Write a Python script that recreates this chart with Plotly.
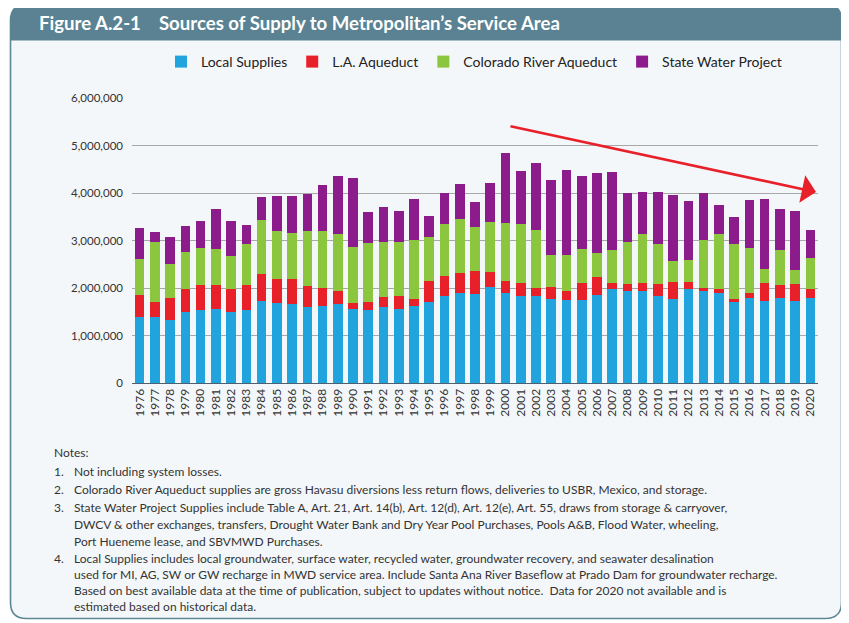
import plotly.graph_objects as go

# ---------------- data (thousand acre-feet) ----------------
years = [str(y) for y in range(1976, 2021)]

local_supplies = [1400, 1400, 1330, 1500, 1540, 1560, 1500, 1540, 1730, 1680, 1660, 1590, 1630, 1660, 1560,
                  1540, 1610, 1550, 1630, 1700, 1830, 1890, 1870, 2030, 1890, 1830, 1830, 1770, 1750, 1750, 1850,
                  1970, 1940, 1940, 1830, 1760, 1970, 1940, 1890, 1710, 1780, 1730, 1800, 1720, 1780]
la_aqueduct = [450, 300, 470, 480, 520, 500, 470, 520, 560, 500, 520, 460, 380, 280, 120,
               170, 200, 280, 140, 450, 430, 420, 490, 300, 260, 270, 160, 260, 190, 350, 390,
               130, 140, 160, 250, 370, 160, 70, 80, 50, 110, 380, 260, 360, 190]
colorado_river = [770, 1270, 700, 770, 790, 770, 700, 860, 1140, 1020, 980, 1150, 1190, 1190, 1190,
                  1240, 1150, 1130, 1250, 930, 1080, 1140, 930, 1060, 1220, 1240, 1240, 660, 750, 730, 500,
                  700, 890, 1030, 840, 440, 460, 1000, 1160, 1160, 960, 300, 750, 300, 670]
state_water = [650, 210, 580, 550, 560, 840, 740, 400, 490, 740, 780, 770, 960, 1220, 1450,
               640, 740, 660, 850, 440, 670, 730, 520, 820, 1470, 1120, 1410, 1580, 1800, 1520, 1690,
               1650, 1040, 900, 1110, 1380, 1240, 980, 610, 580, 1010, 1470, 850, 1240, 590]

series_names = ["Local Supplies", "L.A. Aqueduct", "Colorado River Aqueduct", "State Water Project"]
series_values = [local_supplies, la_aqueduct, colorado_river, state_water]
series_colors = ["#21a4dd", "#e8202a", "#8cc63f", "#8c1b8c"]

y_ticks = [0, 1000000, 2000000, 3000000, 4000000, 5000000, 6000000]

title_text = "Figure A.2-1 &nbsp; &nbsp;Sources of Supply to Metropolitan\u2019s Service Area"
notes_lines = [
    ("", "Notes:"),
    ("1.", "Not including system losses."),
    ("2.", "Colorado River Aqueduct supplies are gross Havasu diversions less return flows, deliveries to USBR, Mexico, and storage."),
    ("3.", "State Water Project Supplies include Table A, Art. 21, Art. 14(b), Art. 12(d), Art. 12(e), Art. 55, draws from storage & carryover,"),
    ("", "DWCV & other exchanges, transfers, Drought Water Bank and Dry Year Pool Purchases, Pools A&B, Flood Water, wheeling,"),
    ("", "Port Hueneme lease, and SBVMWD Purchases."),
    ("4.", "Local Supplies includes local groundwater, surface water, recycled water, groundwater recovery, and seawater desalination"),
    ("", "used for MI, AG, SW or GW recharge in MWD service area. Include Santa Ana River Baseflow at Prado Dam for groundwater recharge."),
    ("", "Based on best available data at the time of publication, subject to updates without notice.  Data for 2020 not available and is"),
    ("", "estimated based on historical data."),
]

# ---------------- layout geometry ----------------
# the page body adds an 8 px margin, so the figure is shrunk by that amount
OFF = 8
WIN_W, WIN_H = 849, 623
FIG_W, FIG_H = WIN_W - OFF, WIN_H - OFF
PL, PR, PT, PB = 132, 818, 98, 383          # plot box in window pixels
L, T = PL - OFF, PT - OFF
R = FIG_W - (PR - OFF)
B = FIG_H - (PB - OFF)
PW, PH = PR - PL, PB - PT
FONT = "Lato"


def px(x):
    return (x - PL) / PW


def py(y):
    return (PB - y) / PH


fig = go.Figure()
for name, vals, col in zip(series_names, series_values, series_colors):
    fig.add_trace(go.Bar(x=years, y=[v * 1000 for v in vals], name=name,
                         marker=dict(color=col, line=dict(width=0))))

# card background with rounded corners (window pixels)
x0, x1, y0, y1, r = 10.5, 841.5, 4.5, 618.5, 16


def P(x, y):
    return f"{px(x):.5f},{py(y):.5f}"


card_path = (f"M{P(x0, y0 + r)} Q{P(x0, y0)} {P(x0 + r, y0)} L{P(x1 - r, y0)} Q{P(x1, y0)} {P(x1, y0 + r)} "
             f"L{P(x1, y1 - r)} Q{P(x1, y1)} {P(x1 - r, y1)} L{P(x0 + r, y1)} Q{P(x0, y1)} {P(x0, y1 - r)} Z")
hy = 40.5
header_path = (f"M{P(x0, hy)} L{P(x0, y0 + r)} Q{P(x0, y0)} {P(x0 + r, y0)} L{P(x1 - r, y0)} "
               f"Q{P(x1, y0)} {P(x1, y0 + r)} L{P(x1, hy)} Z")
shapes = [
    dict(type="path", path=card_path, xref="paper", yref="paper", fillcolor="#f4f7f9",
         line=dict(color="#5d8795", width=1.6), layer="below"),
    dict(type="path", path=header_path, xref="paper", yref="paper", fillcolor="#5a8292",
         line=dict(width=0), layer="below"),
]

annotations = [
    dict(text=f"<b>{title_text}</b>", x=px(37), y=py(22.5), xref="paper", yref="paper",
         xanchor="left", yanchor="middle", showarrow=False,
         font=dict(family=FONT, size=18.6, color="white")),
    dict(text="", x=px(816), y=py(192), xref="paper", yref="paper", showarrow=True,
         ax=-307, ay=-66, arrowhead=1, arrowsize=1.8, arrowwidth=2.6, arrowcolor="#e8202a",
         standoff=0, startstandoff=0),
]

line_ys = [452, 471, 489, 507, 524, 541, 558, 574, 590, 606]
for (num, txt), ly in zip(notes_lines, line_ys):
    tx = 52 if txt == "Notes:" else 72
    if num:
        annotations.append(dict(text=num, x=px(52), y=py(ly), xref="paper", yref="paper",
                                xanchor="left", yanchor="middle", showarrow=False,
                                font=dict(family=FONT, size=12, color="#333333")))
    annotations.append(dict(text=txt, x=px(tx), y=py(ly), xref="paper", yref="paper",
                            xanchor="left", yanchor="middle", showarrow=False,
                            font=dict(family=FONT, size=12, color="#333333")))

fig.update_layout(
    width=FIG_W, height=FIG_H,
    margin=dict(l=L, r=R, t=T, b=B, autoexpand=False),
    paper_bgcolor="white", plot_bgcolor="rgba(0,0,0,0)",
    barmode="stack", bargap=0.37,
    font=dict(family=FONT, color="#333333"),
    showlegend=True,
    legend=dict(orientation="h", x=px(474), xanchor="center", y=py(62), yanchor="middle",
                bgcolor="rgba(0,0,0,0)", traceorder="normal",
                font=dict(family=FONT, size=14, color="#222222")),
    xaxis=dict(type="category", tickmode="linear", dtick=1, tickangle=-90,
               tickfont=dict(family=FONT, size=12, color="#333333"),
               showgrid=False, showline=True, linecolor="#4f6070", linewidth=1, ticks="",
               range=[-0.5, len(years) - 0.5]),
    yaxis=dict(range=[0, 6000000], tickvals=y_ticks, tickformat=",d",
               tickfont=dict(family=FONT, size=11.5, color="#333333"),
               showgrid=True, gridcolor="#a8a8a8", gridwidth=1, zeroline=False, showline=False,
               ticks="", ticklabelstandoff=8),
    shapes=shapes,
    annotations=annotations,
)

fig.write_html("out.html")
